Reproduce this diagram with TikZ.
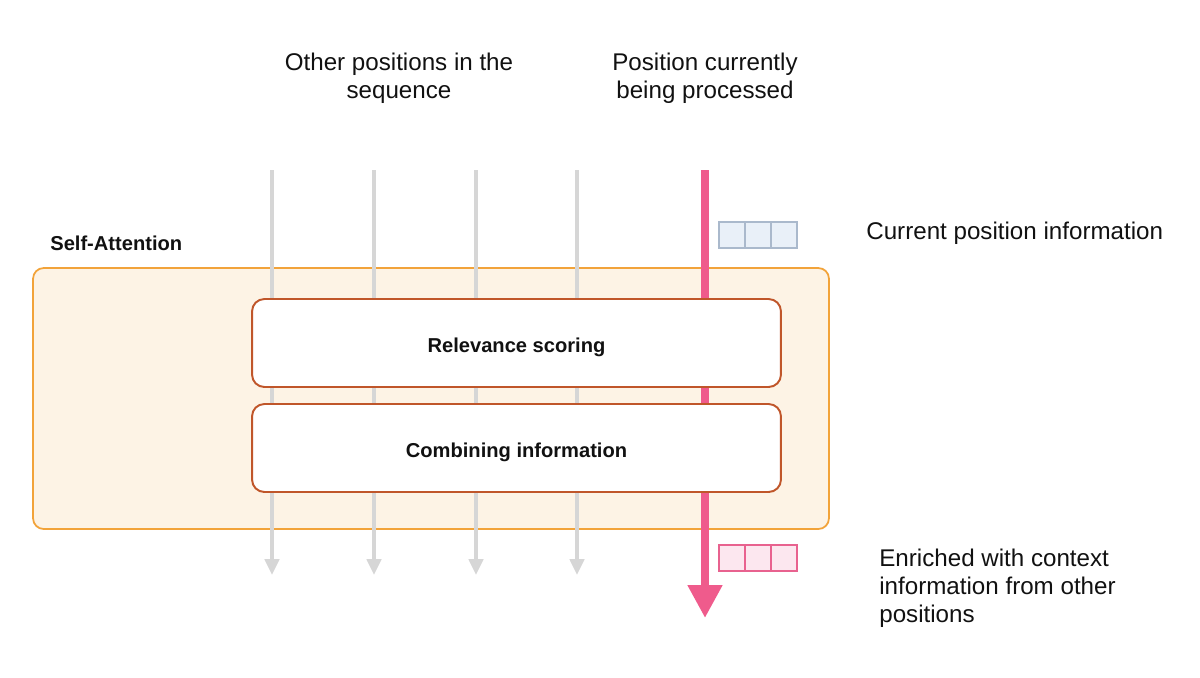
\documentclass[tikz,border=0pt]{standalone}
\usepackage{fontspec}
\setmainfont{Liberation Sans}
\usetikzlibrary{arrows.meta}
\definecolor{pinkline}{HTML}{EF5B8C}
\definecolor{grayline}{HTML}{D6D6D6}
\definecolor{contfill}{HTML}{FDF3E5}
\definecolor{contdraw}{HTML}{F2A33A}
\definecolor{boxdraw}{HTML}{C0562A}
\definecolor{bluefill}{HTML}{E9F0F8}
\definecolor{bluedraw}{HTML}{AAB9CC}
\definecolor{pinkfill}{HTML}{FCE7EF}
\definecolor{pinkdraw}{HTML}{E8628F}
\definecolor{txt}{HTML}{111111}
\tikzset{
  bigtext/.style={text=txt, font=\fontsize{13.75pt}{15.8pt}\selectfont, inner sep=0pt},
  boldtext/.style={text=txt, font=\fontsize{11.45pt}{13pt}\selectfont\bfseries, inner sep=0pt},
  container/.style={draw=contdraw, fill=contfill, line width=1pt, rounded corners=6pt,
    minimum width=15.92cm, minimum height=5.22cm, inner sep=0pt},
  procbox/.style={draw=boxdraw, fill=white, line width=1.1pt, rounded corners=7pt,
    minimum width=10.58cm, minimum height=1.76cm, inner sep=0pt, text=txt,
    text height=10.4pt, text depth=0pt,
    font=\fontsize{11.45pt}{13pt}\selectfont\bfseries},
  grayarrow/.style={draw=grayline, line width=2.2pt, -{Triangle[width=8pt,length=9pt]}},
  pinkarrow/.style={draw=pinkline, line width=4.5pt, -{Triangle[width=18.7pt,length=18.7pt]}},
  bluecell/.style={draw=bluedraw, fill=bluefill, line width=1pt, minimum width=0.52cm, minimum height=0.52cm, inner sep=0pt},
  pinkcell/.style={draw=pinkdraw, fill=pinkfill, line width=1pt, minimum width=0.52cm, minimum height=0.52cm, inner sep=0pt},
}
\begin{document}
\begin{tikzpicture}[x=0.02cm,y=-0.02cm]
\useasboundingbox (0,0) rectangle (1200,677);

% labels on top
\node[bigtext, align=center] (other) at (399,78) {Other positions in the\\sequence};
\node[bigtext, align=center] (current) at (705,78) {Position currently\\being processed};

% container
\node[container] (sa) at (431,398.5) {};
\node[boldtext, anchor=west] (salabel) at (50,243) {Self-Attention};

% line endpoints
\foreach \i/\x in {1/272,2/374,3/476,4/577}{
  \coordinate (g\i t) at (\x,170);
  \coordinate (g\i b) at (\x,575);
}
\coordinate (pt) at (705,170);
\coordinate (pb) at (705,618);

\foreach \i in {1,2,3,4}{
  \draw[grayarrow] (g\i t) -- (g\i b);
}
\draw[pinkarrow] (pt) -- (pb);

% processing boxes
\node[procbox] (rel) at (516.5,343) {Relevance scoring};
\node[procbox] (comb) at (516.5,448) {Combining information};

% small vectors
\node[bluecell] (b1) at (732,235) {};
\node[bluecell] (b2) at (758,235) {};
\node[bluecell] (b3) at (784,235) {};
\node[pinkcell] (p1) at (732,558) {};
\node[pinkcell] (p2) at (758,558) {};
\node[pinkcell] (p3) at (784,558) {};

% right labels
\node[bigtext, anchor=west] (curinfo) at (866,233) {Current position information};
\node[bigtext, anchor=west, align=left] (enriched) at (879,588) {Enriched with context\\information from other\\positions};
\end{tikzpicture}
\end{document}
